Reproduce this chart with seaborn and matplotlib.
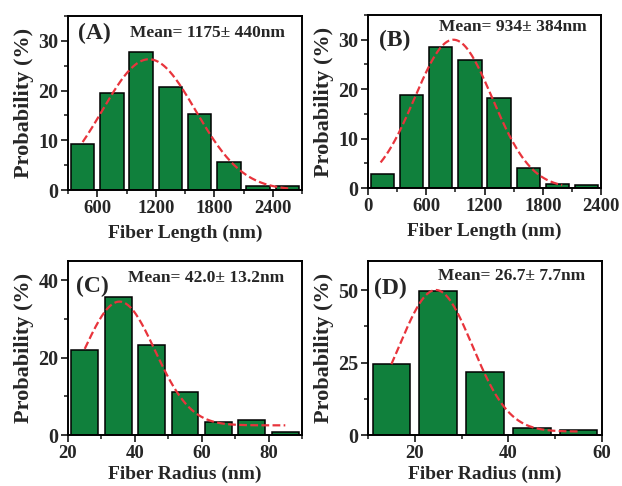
import numpy as np
import matplotlib
matplotlib.use("Agg")
import matplotlib.pyplot as plt
import seaborn as sns
from matplotlib.ticker import MultipleLocator

# bar data (bin centres, probability %)
len_a_x = [450, 750, 1050, 1350, 1650, 1950, 2250, 2550]
len_a_y = [9.2, 19.6, 27.8, 20.8, 15.3, 5.6, 0.8, 0.8]

len_b_x = [150, 450, 750, 1050, 1350, 1650, 1950, 2250]
len_b_y = [2.8, 18.9, 28.6, 25.8, 18.2, 4.0, 0.9, 0.6]

rad_c_x = [25, 35, 45, 55, 65, 75, 85]
rad_c_y = [22.0, 35.7, 23.2, 11.2, 3.4, 3.9, 0.9]

rad_d_x = [15, 25, 35, 45, 55]
rad_d_y = [24.5, 49.8, 21.7, 2.4, 1.7]

# gaussian fit params (centre, sigma, amplitude, offset, x start, x end)
fit_a = [1130, 480, 26.3, 0.0, 450, 2560]
fit_b = [880, 400, 30.0, 0.0, 130, 2000]
fit_c = [35.4, 10.6, 32.0, 2.5, 25, 85]
fit_d = [24.5, 7.8, 48.8, 1.2, 15, 55]

labels = ["(A)", "(B)", "(C)", "(D)"]
means = ["Mean= 1175\u00b1 440nm", "Mean= 934\u00b1 384nm",
         "Mean= 42.0\u00b1 13.2nm", "Mean= 26.7\u00b1 7.7nm"]

sns.set_style("ticks")
plt.rcParams['font.family'] = ['Liberation Serif', 'DejaVu Serif']
plt.rcParams['font.weight'] = 'bold'
plt.rcParams['axes.labelweight'] = 'bold'

green = "#10803c"
red = "#e8343c"

fig = plt.figure(figsize=(6.22, 4.86), dpi=100)
W, H = 622, 486

def mk_ax(l, r, t, b):
    return fig.add_axes([l / W, (H - b) / H, (r - l) / W, (b - t) / H])

axA = mk_ax(68, 302, 16, 190)
axB = mk_ax(368, 601, 15, 188)
axC = mk_ax(68, 302, 261, 435)
axD = mk_ax(368, 602, 261, 435)

panels = [
    (axA, len_a_x, len_a_y, fit_a, (300, 2700), (0, 35), 600, 300, 10, 5, "Fiber Length (nm)", (0.043, 0.90), (0.265, 0.90), 5.5),
    (axB, len_b_x, len_b_y, fit_b, (0, 2400), (0, 35), 600, 300, 10, 5, "Fiber Length (nm)", (0.047, 0.855), (0.305, 0.93), 5.5),
    (axC, rad_c_x, rad_c_y, fit_c, (20, 90), (0, 45), 20, 10, 20, 10, "Fiber Radius (nm)", (0.034, 0.856), (0.256, 0.902), 2.5),
    (axD, rad_d_x, rad_d_y, fit_d, (10, 60), (0, 60), 20, 10, 25, 12.5, "Fiber Radius (nm)", (0.026, 0.845), (0.30, 0.914), 2.5),
]

for i, (ax, bx, by, fit, xl, yl, xmaj, xmin, ymaj, ymin, xlab, lpos, mpos, lpad) in enumerate(panels):
    sns.barplot(x=bx, y=by, native_scale=True, width=0.8, color=green,
                edgecolor="black", linewidth=1.1, saturation=1, ax=ax)
    c, s, a, off, x0, x1 = fit
    xs = np.linspace(x0, x1, 200)
    ys = off + a * np.exp(-(xs - c) ** 2 / (2 * s ** 2))
    sns.lineplot(x=xs, y=ys, color=red, linestyle=(0, (3.5, 1.5)), linewidth=1.6, ax=ax)
    ax.set_xlim(*xl)
    ax.set_ylim(*yl)
    ax.xaxis.set_major_locator(MultipleLocator(xmaj))
    ax.xaxis.set_minor_locator(MultipleLocator(xmin))
    ax.yaxis.set_major_locator(MultipleLocator(ymaj))
    ax.yaxis.set_minor_locator(MultipleLocator(ymin))
    ax.tick_params(which="major", direction="out", length=5, width=1.3, pad=2)
    ax.tick_params(axis="x", which="major", labelsize=13.5)
    ax.tick_params(axis="y", which="major", labelsize=14.5)
    ax.tick_params(which="minor", direction="out", length=3, width=1.2)
    for sp in ax.spines.values():
        sp.set_visible(True)
        sp.set_linewidth(1.4)
        sp.set_color("black")
    ax.set_xlabel(xlab, fontsize=14, labelpad=lpad)
    ax.set_ylabel("Probability (%)", fontsize=16, labelpad=3)
    ax.text(lpos[0], lpos[1], labels[i], transform=ax.transAxes, fontsize=17,
            fontweight="bold", va="center", ha="left")
    ax.text(mpos[0], mpos[1], means[i], transform=ax.transAxes, fontsize=12.5,
            fontweight="bold", va="center", ha="left")

fig.savefig("out.png", dpi=100)
